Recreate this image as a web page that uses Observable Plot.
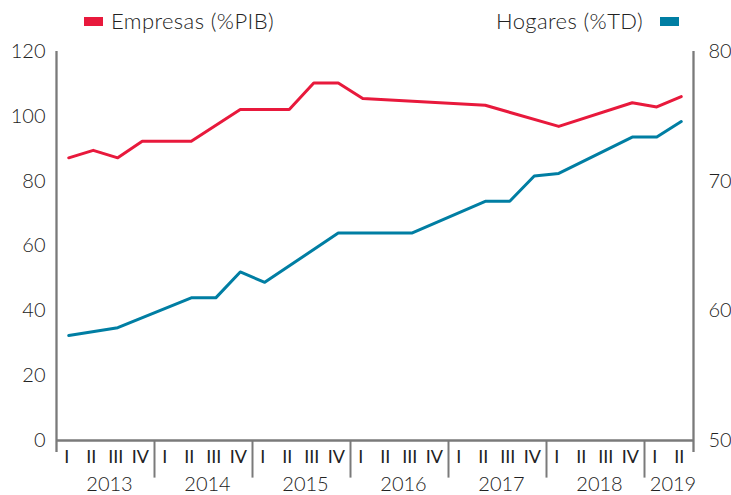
<!DOCTYPE html>
<html>
<head>
<meta charset="utf-8">
<script src="https://cdn.jsdelivr.net/npm/d3@7"></script>
<script src="https://cdn.jsdelivr.net/npm/@observablehq/plot@0.6"></script>
<style>
  html, body { margin: 0; padding: 0; background: #fff; }
  #wrap { position: relative; width: 731px; height: 495px; font-family: Lato, "Open Sans", sans-serif; font-weight: 300; color: #222; }
  .lg { position: absolute; top: 7px; font-size: 22px; letter-spacing: 0.4px; line-height: 28px; white-space: nowrap; }
  .sw { position: absolute; width: 19px; height: 9px; }
  .qlab text { font-weight: 400; }
</style>
</head>
<body>
<div id="wrap">
  <div id="chart"></div>
  <div class="sw" style="left:84px; top:17px; background:#E8193C;"></div>
  <div class="lg" style="left:111px;">Empresas (%PIB)</div>
  <div class="lg" style="right:88px; text-align:right;">Hogares (%TD)</div>
  <div class="sw" style="left:660px; top:17px; background:#007EA3;"></div>
</div>
<script>
// ---- data ----
const years = [2013, 2014, 2015, 2016, 2017, 2018, 2019];
const quarterLabels = ["I", "II", "III", "IV"];
const leftTicks = [0, 20, 40, 60, 80, 100, 120];
const rightTicks = [50, 60, 70, 80];
const leftDomain = [0, 120];
const rightDomain = [50, 80];

// Empresas (%PIB), left axis
const empresasQ = ["2013-I", "2013-II", "2013-III", "2013-IV", "2014-II", "2014-IV", "2015-II", "2015-III", "2015-IV", "2016-I", "2017-II", "2018-I", "2018-IV", "2019-I", "2019-II"];
const empresasV = [87.2, 89.5, 87.2, 92.3, 92.3, 102.1, 102.1, 110.3, 110.3, 105.5, 103.4, 96.9, 104.2, 102.9, 106.1];

// Hogares (%TD), right axis
const hogaresQ = ["2013-I", "2013-III", "2014-II", "2014-III", "2014-IV", "2015-I", "2015-IV", "2016-III", "2017-II", "2017-III", "2017-IV", "2018-I", "2018-IV", "2019-I", "2019-II"];
const hogaresV = [58.1, 58.7, 61.0, 61.0, 63.0, 62.2, 66.0, 66.0, 68.45, 68.45, 70.4, 70.6, 73.4, 73.4, 74.6];

// ---- build ----
const periods = [];
for (const y of years) for (const q of quarterLabels) {
  if (y === 2019 && periods.filter(p => p.year === 2019).length >= 2) continue;
  periods.push({year: y, q, key: `${y}-${q}`});
}
const idx = new Map(periods.map((p, i) => [p.key, i]));
const nP = periods.length;

const toLeft = v => leftDomain[0] + (v - rightDomain[0]) / (rightDomain[1] - rightDomain[0]) * (leftDomain[1] - leftDomain[0]);
const fromLeft = y => rightDomain[0] + (y - leftDomain[0]) / (leftDomain[1] - leftDomain[0]) * (rightDomain[1] - rightDomain[0]);

const empresas = empresasQ.map((k, i) => ({x: idx.get(k) + 0.5, v: empresasV[i]}));
const hogares = hogaresQ.map((k, i) => ({x: idx.get(k) + 0.5, v: hogaresV[i]}));

const yearBounds = [];
const yearCenters = [];
for (const y of years) {
  const is = periods.map((p, i) => p.year === y ? i : -1).filter(i => i >= 0);
  yearCenters.push({c: (is[0] + is[is.length - 1] + 1) / 2, y});
  if (is[0] > 0) yearBounds.push(is[0]);
}
const yearByCenter = new Map(yearCenters.map(d => [d.c, d.y]));

const axisColor = "#7a7a7a";
const ext = -3.7;   // how far the y-axis lines hang below zero (in y units)
const sep = -11.6;  // year separator length below zero

const chart = Plot.plot({
  width: 731,
  height: 495,
  marginLeft: 56,
  marginRight: 38,
  marginTop: 51,
  marginBottom: 55,
  style: {fontFamily: "Lato, 'Open Sans', sans-serif", fontWeight: 300, color: "#222", background: "transparent"},
  x: {domain: [0, nP], axis: null},
  y: {domain: leftDomain, axis: null},
  marks: [
    Plot.axisY({ticks: leftTicks, tickSize: 0, tickPadding: 11, fontSize: 20, label: null}),
    Plot.axisY({anchor: "right", ticks: rightTicks.map(toLeft), tickFormat: d => String(Math.round(fromLeft(d))), tickSize: 0, tickPadding: 15, fontSize: 20, label: null}),
    Plot.axisX({ticks: periods.map((p, i) => i + 0.5), tickFormat: d => periods[Math.floor(d)].q, tickSize: 0, tickPadding: 10, fontSize: 18, dx: -2, fill: "#222", className: "qlab", label: null}),
    Plot.axisX({ticks: yearCenters.map(d => d.c), tickFormat: d => String(yearByCenter.get(d)), tickSize: 0, tickPadding: 36, fontSize: 20, dx: 4, label: null}),
    Plot.ruleX([0, nP], {y1: ext, y2: leftDomain[1], stroke: axisColor, strokeWidth: 2.3}),
    Plot.ruleX(yearBounds, {y1: 0, y2: sep, stroke: axisColor, strokeWidth: 2}),
    Plot.ruleY([0], {x1: 0, x2: nP, stroke: axisColor, strokeWidth: 2.3}),
    Plot.line(empresas, {x: "x", y: "v", stroke: "#E8193C", strokeWidth: 3}),
    Plot.line(hogares, {x: "x", y: d => toLeft(d.v), stroke: "#007EA3", strokeWidth: 3})
  ]
});
document.getElementById("chart").appendChild(chart);
</script>
</body>
</html>
